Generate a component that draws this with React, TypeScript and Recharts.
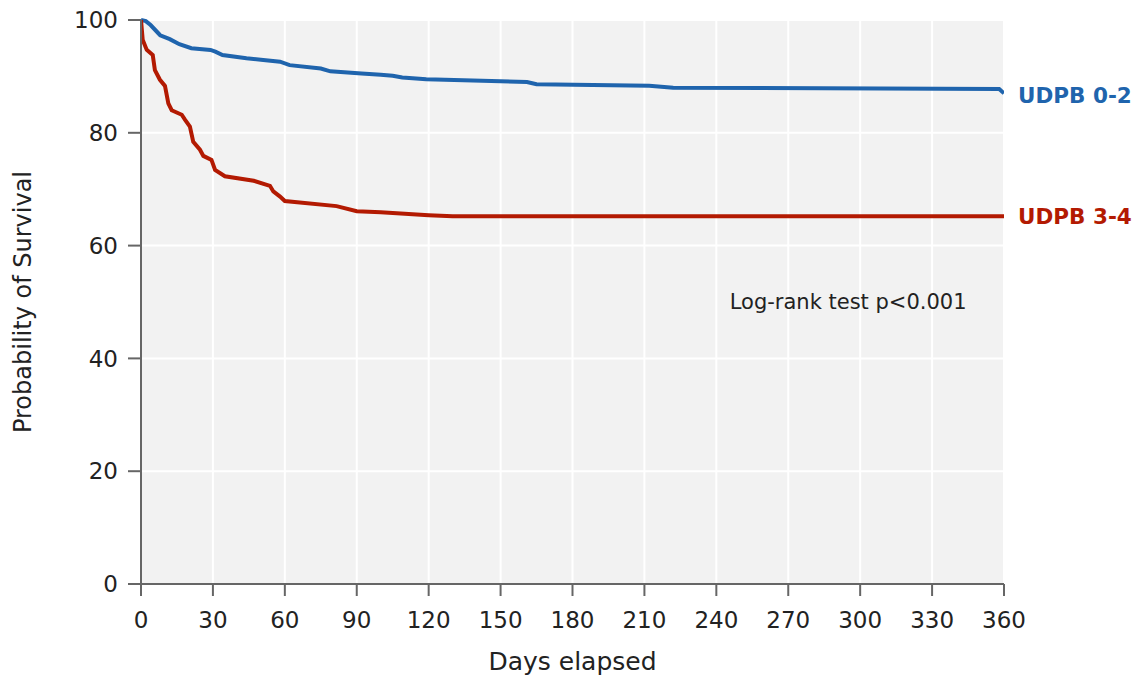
import React from "react";
import { LineChart, Line, XAxis, YAxis, CartesianGrid, ReferenceDot, Label } from "recharts";

// Kaplan-Meier curves
const lowDays = [0, 2, 4, 8, 12, 16, 21, 29, 31, 34, 44, 51, 58, 62, 75, 79, 92, 100, 105, 109, 119, 161, 165, 212, 222, 358, 360];
const lowSurv = [100, 99.8, 99.1, 97.3, 96.6, 95.7, 95.0, 94.7, 94.4, 93.8, 93.2, 92.9, 92.6, 92.0, 91.4, 90.9, 90.5, 90.3, 90.1, 89.8, 89.5, 89.0, 88.6, 88.35, 88.0, 87.75, 87.0];

const highDays = [0, 0.7, 2.4, 4.9, 5.8, 7.9, 10, 11.4, 12.8, 17, 18.4, 20.4, 21.8, 24.6, 26, 29.4, 30.9, 35, 47, 53.8, 55.2, 58, 60, 81.6, 90, 100, 120, 130, 360];
const highSurv = [100, 96.5, 94.7, 93.8, 91.1, 89.4, 88.3, 85.2, 84.0, 83.2, 82.3, 81.1, 78.4, 77.0, 75.9, 75.2, 73.4, 72.3, 71.5, 70.6, 69.6, 68.7, 67.9, 67.0, 66.1, 65.9, 65.4, 65.2, 65.2];

const xTicks = [0, 30, 60, 90, 120, 150, 180, 210, 240, 270, 300, 330, 360];
const yTicks = [0, 20, 40, 60, 80, 100];

const BLUE = "#1f64ad";
const RED = "#b31a02";
const FONT = "'DejaVu Sans', sans-serif";

const lowData = lowDays.map((day, i) => ({ day, surv: lowSurv[i] }));
const highData = highDays.map((day, i) => ({ day, surv: highSurv[i] }));

const endLabel = (text: string, color: string, count: number, dy: number) => (props: any) => {
  if (props.index !== count - 1) return null;
  return (
    <text
      key={text}
      x={props.x + 14}
      y={props.y + dy}
      fill={color}
      fontFamily={FONT}
      fontWeight="bold"
      fontSize={21.5}
      dominantBaseline="central"
    >
      {text}
    </text>
  );
};

const App = () => {
  return (
    <div style={{ position: "absolute", left: 0, top: 0 }}>
      <LineChart width={1139} height={677} margin={{ top: 20, right: 135, bottom: 33, left: 0 }}>
        <CartesianGrid stroke="#ffffff" strokeWidth={2} fill="#f2f2f2" />
        <XAxis
          type="number"
          dataKey="day"
          domain={[0, 360]}
          ticks={xTicks}
          allowDataOverflow
          height={60}
          stroke="#666"
          strokeWidth={2}
          tickSize={12}
          tickMargin={16}
          tick={{ fill: "#222", fontSize: 23, fontFamily: FONT }}
        >
          <Label value="Days elapsed" position="bottom" offset={8} style={{ fill: "#222", fontSize: 25, fontFamily: FONT }} />
        </XAxis>
        <YAxis
          type="number"
          domain={[0, 100]}
          ticks={yTicks}
          width={141}
          stroke="#666"
          strokeWidth={2}
          tickSize={13}
          tickMargin={10}
          tick={{ fill: "#222", fontSize: 23, fontFamily: FONT }}
        >
          <Label
            value="Probability of Survival"
            angle={-90}
            position="insideLeft"
            offset={22}
            style={{ fill: "#222", fontSize: 24, fontFamily: FONT, textAnchor: "middle" }}
          />
        </YAxis>
        <Line
          data={lowData}
          dataKey="surv"
          type="linear"
          stroke={BLUE}
          strokeWidth={4}
          dot={false}
          isAnimationActive={false}
          label={endLabel("UDPB 0-2", BLUE, lowData.length, 2)}
        />
        <Line
          data={highData}
          dataKey="surv"
          type="linear"
          stroke={RED}
          strokeWidth={4}
          dot={false}
          isAnimationActive={false}
          label={endLabel("UDPB 3-4", RED, highData.length, 0)}
        />
        <ReferenceDot
          x={295}
          y={50}
          r={0}
          fill="none"
          stroke="none"
          label={{ value: "Log-rank test p<0.001", position: "center", fill: "#222", fontSize: 21, fontFamily: FONT }}
        />
      </LineChart>
    </div>
  );
};

export default App;
